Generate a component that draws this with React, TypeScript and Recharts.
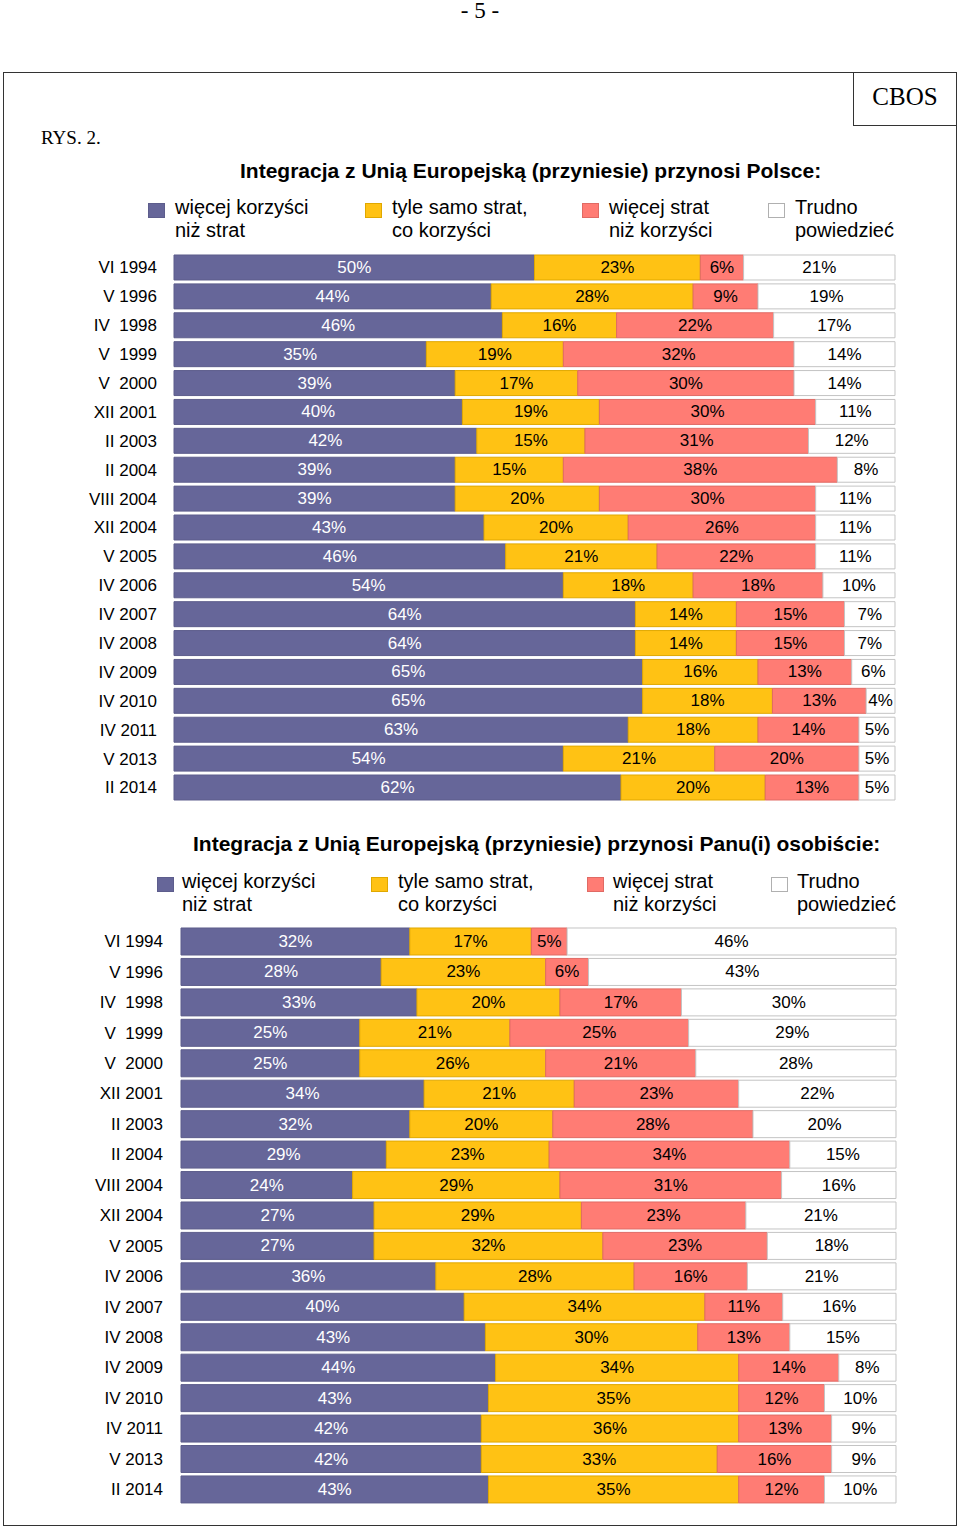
import React from 'react';
import { BarChart, Bar, XAxis, YAxis, LabelList } from 'recharts';

const categories = ['VI 1994', 'V 1996', 'IV\u00a0\u00a01998', 'V\u00a0\u00a01999', 'V\u00a0\u00a02000', 'XII 2001', 'II 2003', 'II 2004', 'VIII 2004', 'XII 2004', 'V 2005', 'IV 2006', 'IV 2007', 'IV 2008', 'IV 2009', 'IV 2010', 'IV 2011', 'V 2013', 'II 2014'];

const seriesNames = ['więcej korzyści|niż strat', 'tyle samo strat,|co korzyści', 'więcej strat|niż korzyści', 'Trudno|powiedzieć'];

const polandMore = [50, 44, 46, 35, 39, 40, 42, 39, 39, 43, 46, 54, 64, 64, 65, 65, 63, 54, 62];
const polandSame = [23, 28, 16, 19, 17, 19, 15, 15, 20, 20, 21, 18, 14, 14, 16, 18, 18, 21, 20];
const polandLoss = [6, 9, 22, 32, 30, 30, 31, 38, 30, 26, 22, 18, 15, 15, 13, 13, 14, 20, 13];
const polandHard = [21, 19, 17, 14, 14, 11, 12, 8, 11, 11, 11, 10, 7, 7, 6, 4, 5, 5, 5];

const personalMore = [32, 28, 33, 25, 25, 34, 32, 29, 24, 27, 27, 36, 40, 43, 44, 43, 42, 42, 43];
const personalSame = [17, 23, 20, 21, 26, 21, 20, 23, 29, 29, 32, 28, 34, 30, 34, 35, 36, 33, 35];
const personalLoss = [5, 6, 17, 25, 21, 23, 28, 34, 31, 23, 23, 16, 11, 13, 14, 12, 13, 16, 12];
const personalHard = [46, 43, 30, 29, 28, 22, 20, 15, 16, 21, 18, 21, 16, 15, 8, 10, 9, 9, 10];

const COLORS = ['#666699', '#FFC214', '#FF7C74', '#FFFFFF'];
const STROKES = ['#5d5d8c', '#e0a800', '#e06a64', '#c4c4c4'];
const LABEL_FILL = ['#FFFFFF', '#000000', '#000000', '#000000'];
const FONT = '"Liberation Sans", Arial, sans-serif';
const SERIF = '"Liberation Serif", "Times New Roman", serif';

const build = (a: number[], b: number[], c: number[], d: number[]) =>
  categories.map((cat, i) => ({ cat, s0: a[i], s1: b[i], s2: c[i], s3: d[i] }));

const polandData = build(polandMore, polandSame, polandLoss, polandHard);
const personalData = build(personalMore, personalSame, personalLoss, personalHard);

const makeLabel = (fill: string) => (props: any) => {
  const { x, y, width, height, value } = props;
  return (
    <text
      x={x + width / 2}
      y={y + height / 2}
      textAnchor="middle"
      dominantBaseline="central"
      fill={fill}
      fontFamily={FONT}
      fontSize={17}
    >
      {value}%
    </text>
  );
};

const Legend = ({ top, boxX, textX }: { top: number; boxX: number[]; textX: number[] }) => (
  <>
    {seriesNames.map((n, i) => {
      const [l1, l2] = n.split('|');
      return (
        <React.Fragment key={i}>
          <div
            style={{
              position: 'absolute',
              left: boxX[i],
              top: top + 7,
              width: 17,
              height: 15,
              background: COLORS[i],
              border: i === 3 ? '1px solid #b0b0b0' : `1px solid ${STROKES[i]}`,
              boxSizing: 'border-box',
            }}
          />
          <div
            style={{
              position: 'absolute',
              left: textX[i],
              top: top,
              fontFamily: FONT,
              fontSize: 20,
              lineHeight: '23px',
              color: '#000',
              whiteSpace: 'nowrap',
            }}
          >
            {l1}
            <br />
            {l2}
          </div>
        </React.Fragment>
      );
    })}
  </>
);

const Chart = ({
  data,
  top,
  height,
  axisX,
  rightX,
  barSize,
  tickGap,
}: {
  data: any[];
  top: number;
  height: number;
  axisX: number;
  rightX: number;
  barSize: number;
  tickGap: number;
}) => {
  const yw = 120;
  return (
    <div style={{ position: 'absolute', left: 0, top }}>
      <BarChart
        width={960}
        height={height}
        data={data}
        layout="vertical"
        stackOffset="expand"
        barCategoryGap={0}
        margin={{ top: 0, bottom: 0, left: axisX - yw, right: 960 - rightX }}
      >
        <XAxis type="number" domain={[0, 1]} hide />
        <YAxis
          type="category"
          dataKey="cat"
          width={yw}
          axisLine={false}
          tickLine={false}
          tickSize={0}
          tickMargin={tickGap}
          interval={0}
          tick={{ fill: '#000', fontSize: 17, fontFamily: FONT }}
        />
        {[0, 1, 2, 3].map((i) => (
          <Bar
            key={i}
            dataKey={`s${i}`}
            stackId="a"
            fill={COLORS[i]}
            stroke={STROKES[i]}
            strokeWidth={1}
            barSize={barSize}
            isAnimationActive={false}
          >
            <LabelList dataKey={`s${i}`} content={makeLabel(LABEL_FILL[i])} />
          </Bar>
        ))}
      </BarChart>
    </div>
  );
};

export default function App() {
  return (
    <div style={{ position: 'absolute', left: 0, top: 0, width: 960, height: 1529, background: '#fff' }}>
      <div
        style={{
          position: 'absolute',
          left: 0,
          width: 960,
          top: 1,
          textAlign: 'center',
          fontFamily: SERIF,
          fontSize: 23,
          lineHeight: '20px',
        }}
      >
        - 5 -
      </div>
      <div
        style={{
          position: 'absolute',
          left: 3,
          top: 72,
          width: 954,
          height: 1454,
          border: '1px solid #333',
          boxSizing: 'border-box',
        }}
      />
      <div
        style={{
          position: 'absolute',
          left: 853,
          top: 72,
          width: 104,
          height: 54,
          border: '1px solid #333',
          boxSizing: 'border-box',
          fontFamily: SERIF,
          fontSize: 25,
          display: 'flex',
          alignItems: 'center',
          justifyContent: 'center',
          paddingBottom: 4,
        }}
      >
        CBOS
      </div>
      <div
        style={{
          position: 'absolute',
          left: 41,
          top: 127,
          fontFamily: SERIF,
          fontSize: 19,
        }}
      >
        RYS. 2.
      </div>

      <div
        style={{
          position: 'absolute',
          left: 240,
          top: 159,
          fontFamily: FONT,
          fontWeight: 'bold',
          fontSize: 21,
          whiteSpace: 'nowrap',
        }}
      >
        Integracja z Unią Europejską (przyniesie) przynosi Polsce:
      </div>
      <Legend top={196} boxX={[148, 365, 582, 768]} textX={[175, 392, 609, 795]} />
      <Chart data={polandData} top={252.6} height={548.9} axisX={174} rightX={895} barSize={25} tickGap={17} />

      <div
        style={{
          position: 'absolute',
          left: 193,
          top: 832,
          fontFamily: FONT,
          fontWeight: 'bold',
          fontSize: 21,
          whiteSpace: 'nowrap',
        }}
      >
        Integracja z Unią Europejską (przyniesie) przynosi Panu(i) osobiście:
      </div>
      <Legend top={870} boxX={[157, 371, 587, 771]} textX={[182, 398, 613, 797]} />
      <Chart data={personalData} top={925.8} height={578.4} axisX={181} rightX={896} barSize={27} tickGap={18} />
    </div>
  );
}
